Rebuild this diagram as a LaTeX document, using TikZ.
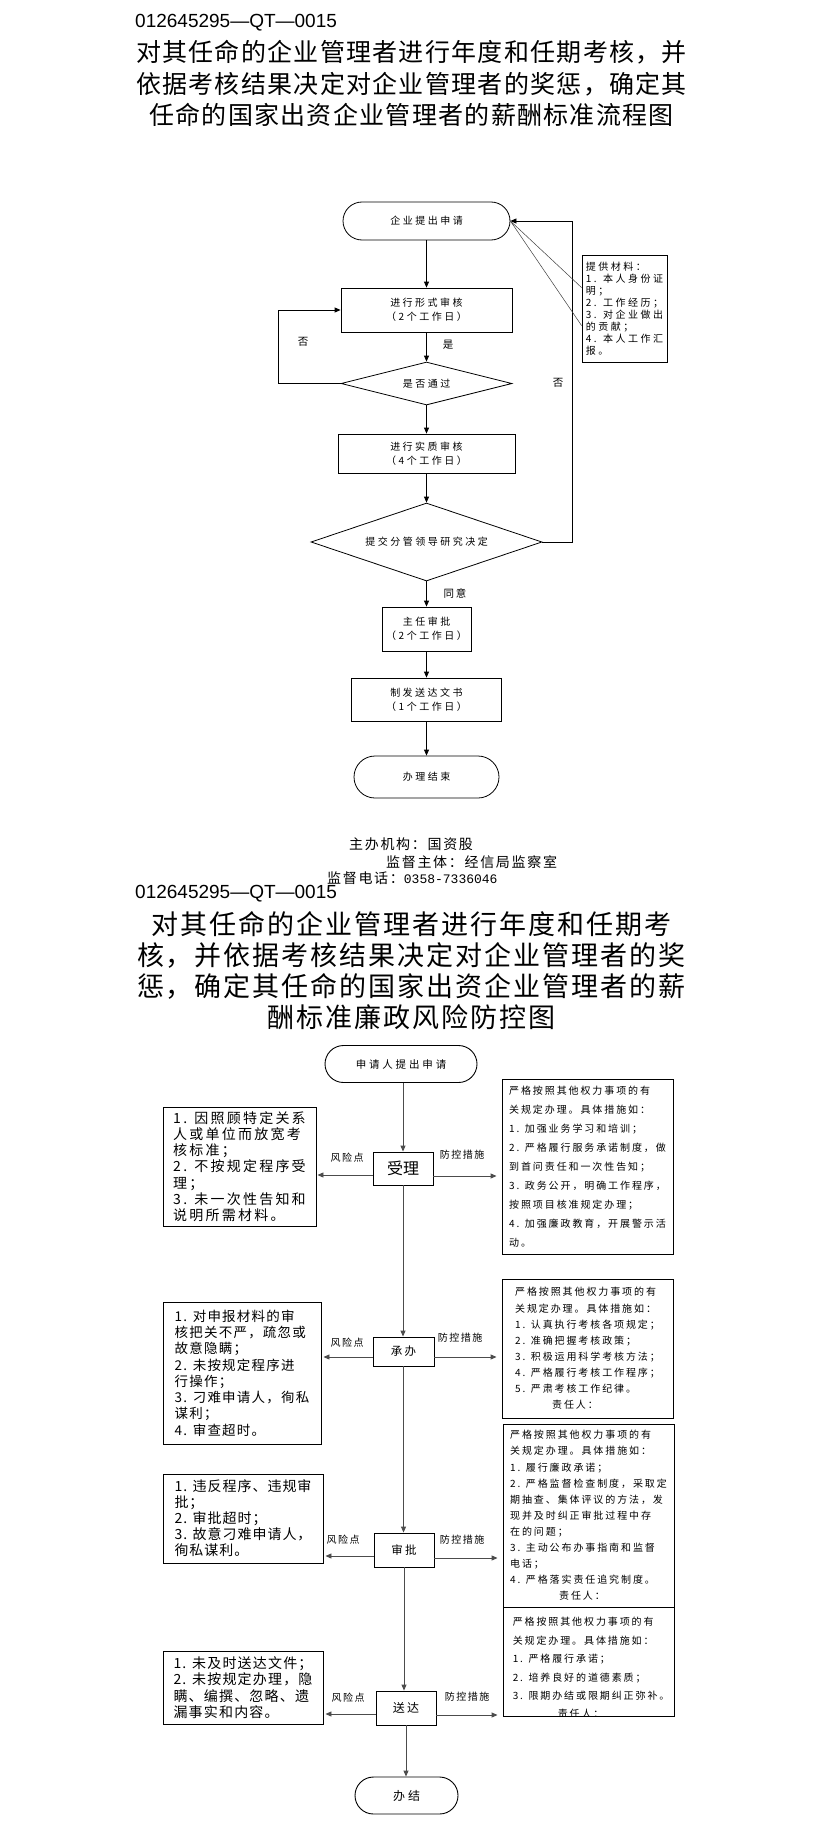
\documentclass[tikz,border=0pt]{standalone}
\usepackage{fontspec}
\setmainfont{Noto Sans CJK SC}
\newfontfamily\latinf{Liberation Sans}
\newfontfamily\monof{Liberation Mono}
\usetikzlibrary{arrows.meta,shapes.geometric,calc}
\newcommand{\setfs}[3]{\fontsize{#1}{#2}\selectfont\addfontfeatures{LetterSpace=#3}}
\begin{document}
\begin{tikzpicture}[x=1pt,y=-1pt,
  arr/.style={line width=0.8pt,-{Triangle[length=6pt,width=5pt]}},
  garr/.style={line width=0.9pt,draw=black!70,-{Triangle[length=6pt,width=5pt]}},
  pbox/.style={draw,line width=0.8pt,inner sep=0pt,align=center,font=\setfs{10}{14}{25}},
  pbox2/.style={draw,line width=0.9pt,inner sep=0pt,align=center},
  lbox/.style={draw,line width=0.9pt,inner sep=0pt,align=left},
  rbox/.style={draw,line width=0.9pt,inner sep=0pt,align=left},
  lab/.style={inner sep=0pt,font=\setfs{10.5}{12}{15}},
  slab/.style={inner sep=0pt,font=\setfs{10}{12}{15}}]
\useasboundingbox (0,0) rectangle (823,1830);
\fill[white] (0,0) rectangle (823,1830);

% ---------- header 1 ----------
\node[anchor=west,inner sep=0pt,font=\latinf\fontsize{19}{22}\selectfont] (code1) at (135,23) {012645295—QT—0015};
\node[align=center,inner sep=0pt,font=\setfs{25}{31.5}{5.2}] (title1) at (411.5,83.5)
 {对其任命的企业管理者进行年度和任期考核，并\\依据考核结果决定对企业管理者的奖惩，确定其\\任命的国家出资企业管理者的薪酬标准流程图};

% ---------- flowchart 1 ----------
\node[pbox,rounded corners=19pt,minimum width=167pt,minimum height=38pt] (t1) at (426.5,221) {企业提出申请};
\node[pbox,minimum width=171pt,minimum height=44pt] (b1) at (426.5,310) {进行形式审核\\（2个工作日）};
\node[pbox,shape=diamond,aspect=4,minimum width=171pt,minimum height=43pt] (d1) at (426.5,383.5) {是否通过};
\node[pbox,minimum width=177pt,minimum height=39pt] (b2) at (426.5,453.5) {进行实质审核\\（4个工作日）};
\node[pbox,shape=diamond,aspect=2.96,minimum width=231pt,minimum height=78pt] (d2) at (426.5,542) {提交分管领导研究决定};
\node[pbox,minimum width=89pt,minimum height=44pt] (b3) at (426.5,629) {主任审批\\（2个工作日）};
\node[pbox,minimum width=150pt,minimum height=43pt] (b4) at (426.5,699.5) {制发送达文书\\（1个工作日）};
\node[pbox,rounded corners=21pt,minimum width=145pt,minimum height=42pt] (t2) at (426.5,777) {办理结束};
\node[draw,line width=0.8pt,minimum width=85pt,minimum height=107pt,align=left,inner sep=0pt,font=\setfs{10}{12}{25}] (note) at (624.5,308.5)
 {提供材料：\\1. 本人身份证\\明；\\2. 工作经历；\\3. 对企业做出\\的贡献；\\4. 本人工作汇\\报。};

\draw[arr] (t1.south) -- (b1.north);
\draw[arr] (b1.south) -- (d1.north);
\draw[arr] (d1.west) -- ++(-62,0) |- (b1.west);
\draw[arr] (d1.south) -- (b2.north);
\draw[arr] (b2.south) -- (d2.north);
\draw[arr] (d2.east) -- ++(30,0) |- (t1.east);
\draw[arr] (d2.south) -- (b3.north);
\draw[arr] (b3.south) -- (b4.north);
\draw[arr] (b4.south) -- (t2.north);
\draw[line width=0.5pt,black!75] ($(note.north west)+(0,33)$) -- (t1.east) -- ($(note.north west)+(0,71)$);

\node[lab] (lyes) at (448,345) {是};
\node[lab] (lno1) at (303,342) {否};
\node[lab] (lno2) at (558,383) {否};
\node[lab] (lagree) at (455,593) {同意};

% ---------- footer ----------
\node[anchor=west,inner sep=0pt,font=\setfs{14}{16}{12}] (f1) at (349,844) {主办机构：国资股};
\node[anchor=west,inner sep=0pt,font=\setfs{14}{16}{12}] (f2) at (386,862) {监督主体：经信局监察室};
\node[anchor=west,inner sep=0pt,font=\setfs{14}{16}{12}] (f3) at (327,878) {监督电话：{\monof\fontsize{13}{16}\selectfont 0358-7336046}};

% ---------- header 2 ----------
\node[anchor=west,inner sep=0pt,font=\latinf\fontsize{19}{22}\selectfont] (code2) at (135,894) {012645295—QT—0015};
\node[align=center,inner sep=0pt,font=\setfs{27}{31}{7.4}] (title2) at (411.5,970.5)
 {对其任命的企业管理者进行年度和任期考\\核，并依据考核结果决定对企业管理者的奖\\惩，确定其任命的国家出资企业管理者的薪\\酬标准廉政风险防控图};

% ---------- flowchart 2 ----------
\node[pbox2,rounded corners=18.5pt,minimum width=152pt,minimum height=37pt,font=\setfs{10.5}{12}{27}] (s0) at (401,1064) {申请人提出申请};
\node[pbox2,minimum width=60pt,minimum height=33pt,font=\setfs{16}{18}{0}] (p1) at (403,1168.5) {受理};
\node[pbox2,minimum width=61pt,minimum height=29pt,font=\setfs{11.5}{13}{20}] (p2) at (403.5,1351.5) {承办};
\node[pbox2,minimum width=60pt,minimum height=34pt,font=\setfs{11.5}{13}{20}] (p3) at (404,1550) {审批};
\node[pbox2,minimum width=60pt,minimum height=34pt,font=\setfs{12}{13}{20}] (p4) at (406,1708) {送达};
\node[pbox2,rounded corners=18.5pt,minimum width=103pt,minimum height=37pt,font=\setfs{12}{14}{25}] (e) at (406.5,1795.5) {办结};

\node[lbox,minimum width=153pt,minimum height=119pt,font=\setfs{14}{16.2}{16}] (L1) at (239.5,1166.5)
 {1. 因照顾特定关系\\人或单位而放宽考\\核标准；\\2. 不按规定程序受\\理；\\3. 未一次性告知和\\说明所需材料。};
\node[lbox,minimum width=158pt,minimum height=142pt,font=\setfs{13.5}{16.3}{9}] (L2) at (242,1373)
 {1. 对申报材料的审\\核把关不严，疏忽或\\故意隐瞒；\\2. 未按规定程序进\\行操作；\\3. 刁难申请人，徇私\\谋利；\\4. 审查超时。};
\node[lbox,minimum width=160pt,minimum height=89pt,font=\setfs{14}{16}{7}] (L3) at (243,1518.5)
 {1. 违反程序、违规审\\批；\\2. 审批超时；\\3. 故意刁难申请人，\\徇私谋利。};
\node[lbox,minimum width=160pt,minimum height=73pt,font=\setfs{14}{16.3}{8.5}] (L4) at (243,1687.5)
 {1. 未及时送达文件；\\2. 未按规定办理，隐\\瞒、编撰、忽略、遗\\漏事实和内容。};

\node[rbox,minimum width=171pt,minimum height=175pt,font=\setfs{10}{19}{19}] (R1) at (587.5,1166.5)
 {严格按照其他权力事项的有\\关规定办理。具体措施如：\\1. 加强业务学习和培训；\\2. 严格履行服务承诺制度，做\\到首问责任和一次性告知；\\3. 政务公开，明确工作程序，\\按照项目核准规定办理；\\4. 加强廉政教育，开展警示活\\动。};
\node[rbox,minimum width=171pt,minimum height=139pt,font=\setfs{10}{16.1}{19}] (R2) at (587.5,1348.5)
 {严格按照其他权力事项的有\\关规定办理。具体措施如：\\1. 认真执行考核各项规定；\\2. 准确把握考核政策；\\3. 积极运用科学考核方法；\\4. 严格履行考核工作程序；\\5. 严肃考核工作纪律。\\\hspace*{37pt}责任人：};
\node[rbox,minimum width=171pt,minimum height=183pt,font=\setfs{10}{16.1}{19}] (R3) at (588.5,1515.5)
 {严格按照其他权力事项的有\\关规定办理。具体措施如：\\1. 履行廉政承诺；\\2. 严格监督检查制度，采取定\\期抽查、集体评议的方法，发\\现并及时纠正审批过程中存\\在的问题；\\3. 主动公布办事指南和监督\\电话；\\4. 严格落实责任追究制度。\\\hspace*{49pt}责任人：};
\node[rbox,minimum width=171pt,minimum height=109pt] (R4) at (588.5,1661.5) {};
\begin{scope}
\clip (R4.north west) rectangle (R4.south east);
\node[anchor=north west,inner sep=0pt,align=left,font=\setfs{10}{18.4}{19}] (R4t) at ($(R4.north west)+(10,10.6)$)
 {严格按照其他权力事项的有\\关规定办理。具体措施如：\\1. 严格履行承诺；\\2. 培养良好的道德素质；\\3. 限期办结或限期纠正弥补。\\\hspace*{45pt}责任人：};
\end{scope}

% vertical connectors
\draw[garr] (p1.north |- s0.south) -- (p1.north);
\draw[garr] (p1.south) -- (p1.south |- p2.north);
\draw[garr] (p2.south) -- (p2.south |- p3.north);
\draw[garr] (p3.south) -- (p3.south |- p4.north);
\draw[garr] (p4.south) -- (p4.south |- e.north);

% horizontal connectors
\coordinate (a1) at ([yshift=-6.5pt]p1.west);
\coordinate (c1) at ([yshift=-7.5pt]p1.east);
\coordinate (a2) at ([yshift=-5.5pt]p2.west);
\coordinate (c2) at ([yshift=-5.5pt]p2.east);
\coordinate (a3) at ([yshift=-6pt]p3.west);
\coordinate (c3) at ([yshift=-8pt]p3.east);
\coordinate (a4) at ([yshift=-6pt]p4.west);
\coordinate (c4) at ([yshift=-7pt]p4.east);
\draw[garr,shorten >=1pt] (a1) -- (a1 -| L1.east);
\draw[garr,shorten >=5pt] (c1) -- (c1 -| R1.west);
\draw[garr,shorten >=2pt] (a2) -- (a2 -| L2.east);
\draw[garr,shorten >=5pt] (c2) -- (c2 -| R2.west);
\draw[garr,shorten >=2pt] (a3) -- (a3 -| L3.east);
\draw[garr,shorten >=5pt] (c3) -- (c3 -| R3.west);
\draw[garr,shorten >=2pt] (a4) -- (a4 -| L4.east);
\draw[garr,shorten >=5pt] (c4) -- (c4 -| R4.west);

\node[slab] (r1l) at (347,1158) {风险点};
\node[slab] (r2l) at (347,1343) {风险点};
\node[slab] (r3l) at (343,1540) {风险点};
\node[slab] (r4l) at (348,1698) {风险点};
\node[slab] (m1l) at (462,1155) {防控措施};
\node[slab] (m2l) at (460,1338) {防控措施};
\node[slab] (m3l) at (462,1540) {防控措施};
\node[slab] (m4l) at (467,1697) {防控措施};
\end{tikzpicture}
\end{document}
